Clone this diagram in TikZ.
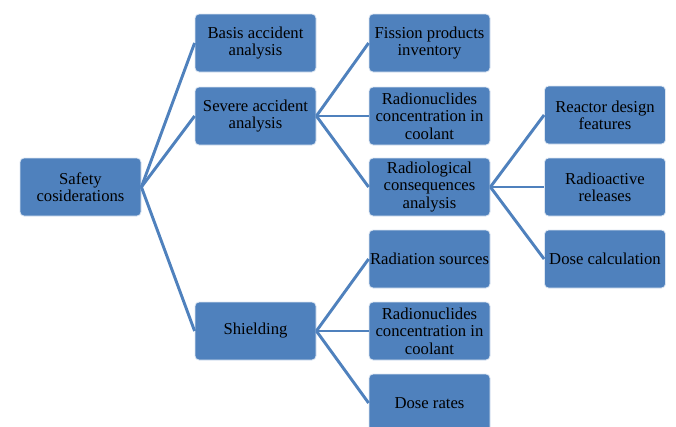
\documentclass[tikz,border=0pt]{standalone}
\usepackage{fontspec}
\setmainfont{Liberation Serif}
\definecolor{boxblue}{HTML}{4F81BD}
\begin{document}
\begin{tikzpicture}[x=0.75pt,y=-0.75pt,
  box/.style={rectangle, rounded corners=3pt, fill=boxblue, draw=white!80!boxblue, line width=0.6pt,
    minimum width=90.75pt, minimum height=43.5pt, inner sep=0pt,
    align=center, font=\fontsize{12.5}{13}\selectfont, text=black},
  link/.style={draw=boxblue, line width=2.2pt}]
\useasboundingbox (0,0) rectangle (676,426);
\begin{scope}
\clip (0,0) rectangle (676,426);
% root
\node[box] (safety) at (80.5,187) {Safety\\cosiderations};
% second level
\node[box] (basis)  at (255.5,43)  {Basis accident\\analysis};
\node[box] (severe) at (255.5,116) {Severe accident\\analysis};
\node[box] (shield) at (255.5,331) {Shielding};
% third level
\node[box] (fission) at (429.5,43)  {Fission products\\inventory};
\node[box] (radconc) at (429.5,116) {Radionuclides\\concentration in\\coolant};
\node[box] (radcons) at (429.5,187) {Radiological\\consequences\\analysis};
\node[box] (sources) at (429.5,259) {Radiation sources};
\node[box] (shconc)  at (429.5,331) {Radionuclides\\concentration in\\coolant};
\node[box] (rates)   at (429.5,403) {Dose rates};
% fourth level
\node[box] (design)   at (605,115) {Reactor design\\features};
\node[box] (releases) at (605,187) {Radioactive\\releases};
\node[box] (dosecalc) at (605,259) {Dose calculation};
% connectors
\foreach \c in {basis,severe,shield} \draw[link] (safety.east) -- (\c.west);
\foreach \c in {fission,radconc,radcons} \draw[link] (severe.east) -- (\c.west);
\foreach \c in {sources,shconc,rates} \draw[link] (shield.east) -- (\c.west);
\foreach \c in {design,releases,dosecalc} \draw[link] (radcons.east) -- (\c.west);
\end{scope}
\end{tikzpicture}
\end{document}
